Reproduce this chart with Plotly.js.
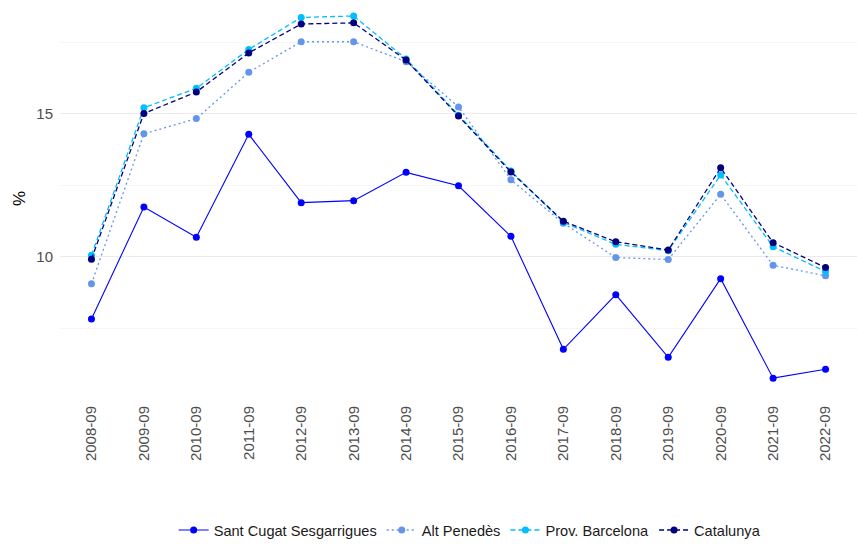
<!DOCTYPE html>
<html>
<head>
<meta charset="utf-8">
<script src="https://cdn.plot.ly/plotly-3.0.1.min.js"></script>
<style>html,body{margin:0;padding:0;background:#fff;}#chart{width:857px;height:552px;}</style>
</head>
<body>
<div id="chart"></div>
<script>
const categories = ["2008-09","2009-09","2010-09","2011-09","2012-09","2013-09","2014-09","2015-09","2016-09","2017-09","2018-09","2019-09","2020-09","2021-09","2022-09"];
const santCugat = [7.82,11.74,10.68,14.28,11.89,11.96,12.95,12.48,10.71,6.76,8.67,6.48,9.23,5.75,6.06];
const altPenedes = [9.05,14.30,14.83,16.45,17.52,17.52,16.82,15.24,12.69,11.17,9.97,9.90,12.18,9.70,9.33];
const provBarcelona = [10.05,15.21,15.89,17.25,18.37,18.42,16.92,14.95,13.00,11.20,10.43,10.21,12.86,10.35,9.48];
const catalunya = [9.91,15.01,15.76,17.13,18.14,18.18,16.88,14.92,12.96,11.24,10.52,10.23,13.11,10.49,9.62];
const seriesNames = ["Sant Cugat Sesgarrigues","Alt Penedès","Prov. Barcelona","Catalunya"];

const styles = [
  {color:"#0000FF", dash:"solid", width:1.1},
  {color:"#6495ED", dash:"2px,3px", width:1.3},
  {color:"#00BFFF", dash:"5px,3px", width:1.3},
  {color:"#000080", dash:"5px,3px", width:1.3}
];
const values = [santCugat, altPenedes, provBarcelona, catalunya];

const traces = values.map((v,i)=>({
  type:"scatter", mode:"lines+markers",
  name: seriesNames[i], x: categories, y: v,
  line:{color:styles[i].color, dash:styles[i].dash, width:styles[i].width},
  marker:{color:styles[i].color, size:7}
}));

const layout = {
  width:857, height:552,
  margin:{l:60, r:0, t:0, b:155},
  paper_bgcolor:"#fff", plot_bgcolor:"#fff",
  font:{family:"Liberation Sans, Arial, sans-serif", size:15, color:"#4d4d4d"},
  showlegend:true,
  legend:{orientation:"h", x:0.514, xanchor:"center", y:-0.335, yanchor:"middle",
          font:{size:14.6, color:"#1a1a1a"}},
  xaxis:{type:"category", range:[-0.6,14.6], tickangle:-90, showgrid:false,
         zeroline:false, showline:false, ticks:"", ticklabelstandoff:5,
         tickfont:{size:15, color:"#4d4d4d"}},
  yaxis:{range:[5.09,18.98], tick0:0, dtick:5, showgrid:true, gridcolor:"#ebebeb", gridwidth:1,
         zeroline:false, showline:false, ticks:"", ticklabelstandoff:6,
         tickfont:{size:15, color:"#4d4d4d"},
         minor:{dtick:2.5, tick0:0, showgrid:true, gridcolor:"#f2f2f2", gridwidth:0.7},
         title:{text:"%", font:{size:17, color:"#000"}, standoff:6}}
};

Plotly.newPlot("chart", traces, layout, {displayModeBar:false, staticPlot:true});
</script>
</body>
</html>
